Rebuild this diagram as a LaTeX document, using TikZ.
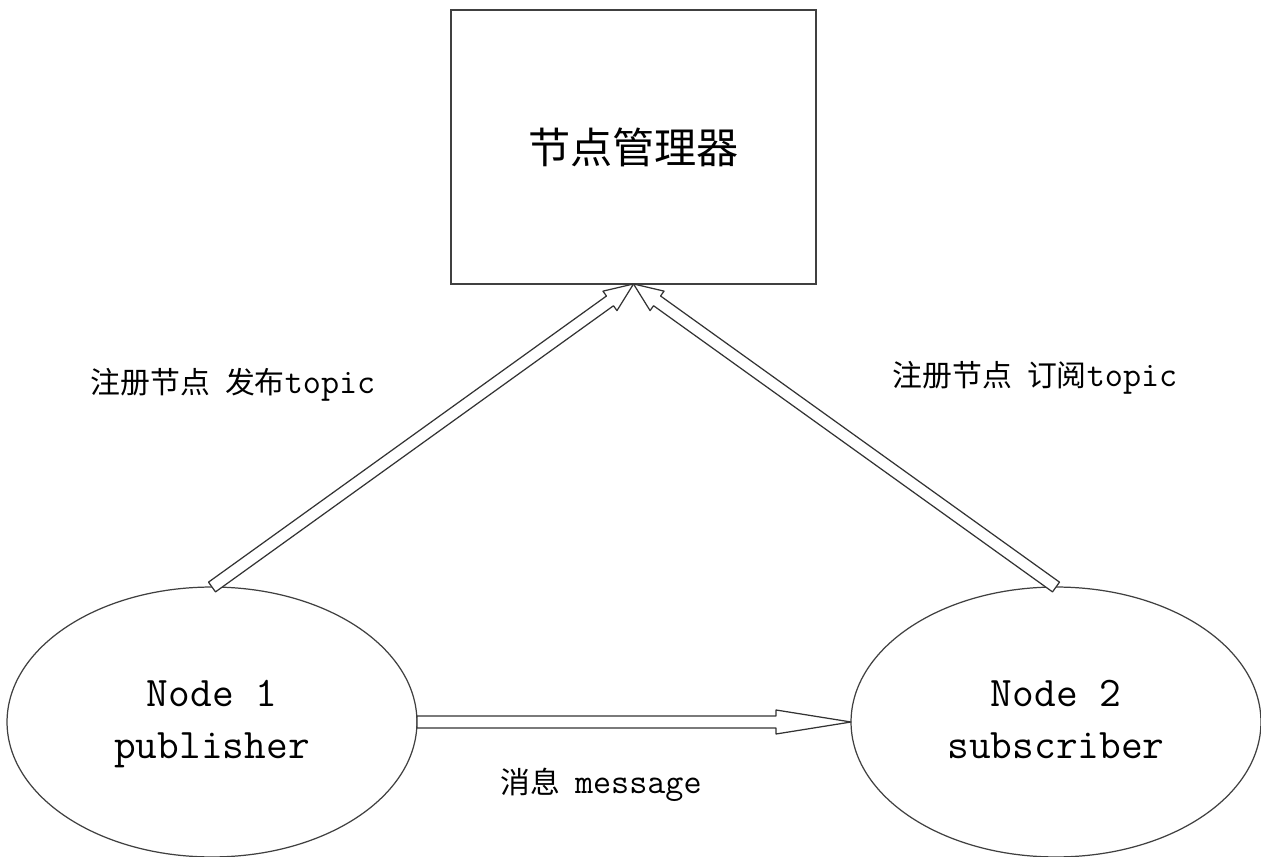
\documentclass[tikz,border=0pt]{standalone}
\usepackage{fontspec}
\newfontfamily\cjk{Noto Sans CJK SC}
\usetikzlibrary{calc, shapes.geometric}
\newcommand{\zh}[1]{{\cjk\fontsize{17}{20}\selectfont #1}}
% hollow block arrow: from, to, head length
\newcommand{\hollowarrow}[3]{%
  \coordinate (neck) at ($(#2)!#3!(#1)$);
  \draw[pipe] ($(#1)!0.12cm!90:(#2)$) -- ($(neck)!0.12cm!90:(#2)$)
    -- ($(neck)!0.24cm!90:(#2)$) -- (#2)
    -- ($(neck)!0.24cm!-90:(#2)$) -- ($(neck)!0.12cm!-90:(#2)$)
    -- ($(#1)!0.12cm!-90:(#2)$) -- cycle;
}
\tikzset{
  manager/.style={
    rectangle, draw=black!75, line width=0.8pt, minimum width=7.3cm,
    minimum height=5.48cm, inner sep=0pt, outer sep=0pt,
    font={\cjk\fontsize{24}{28}\selectfont}
  },
  member/.style={
    ellipse, draw=black!75, line width=0.7pt, minimum width=8.2cm,
    minimum height=5.4cm, inner sep=0pt, outer sep=0pt, align=center,
    font={\ttfamily\fontsize{24}{29.6}\selectfont}
  },
  pipe/.style={
    draw=black!80, line width=0.7pt, line join=round, fill=white
  },
  note/.style={
    inner sep=0pt, font={\ttfamily\fontsize{20}{22}\selectfont}
  }
}

\begin{document}
\begin{tikzpicture}[x=0.02cm, y=-0.02cm]
\useasboundingbox (0,0) rectangle (1261,857);
\node[manager] (mgr) at (633.5,147) {节点管理器};
\node[member] (pub) at (212,722) {\strut Node 1\\publisher\strut};
\node[member] (sub) at (1056,722) {\strut Node 2\\subscriber\strut};
\node[note] (pubnote) at (233,385) {\zh{注册节点\hspace{0.5em}发布}topic};
\node[note] (subnote) at (1035,378) {\zh{注册节点\hspace{0.5em}订阅}topic};
\node[note] (msgnote) at (601,785) {\zh{消息\hspace{0.5em}}message};
\hollowarrow{pub.north}{mgr.south}{0.58cm}
\hollowarrow{sub.north}{mgr.south}{0.58cm}
\hollowarrow{pub.east}{sub.west}{1.5cm}
\end{tikzpicture}
\end{document}
